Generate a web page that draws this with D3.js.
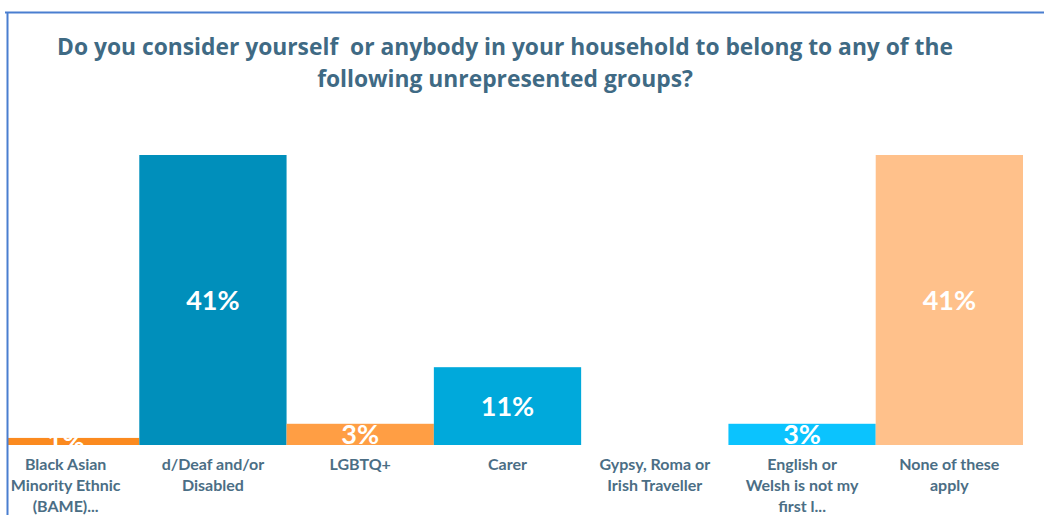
<!DOCTYPE html>
<html><head><meta charset="utf-8">
<script src="https://cdn.jsdelivr.net/npm/d3@7"></script>
<style>body{margin:0;background:#fff;}svg{display:block;}</style>
</head><body>
<svg id="c" width="1044" height="515"></svg>
<script>
const categories = ["Black Asian Minority Ethnic (BAME)...", "d/Deaf and/or Disabled", "LGBTQ+", "Carer", "Gypsy, Roma or Irish Traveller", "English or Welsh is not my first l...", "None of these apply"];
const labelLines = [["Black Asian","Minority Ethnic","(BAME)..."],["d/Deaf and/or","Disabled"],["LGBTQ+"],["Carer"],["Gypsy, Roma or","Irish Traveller"],["English or","Welsh is not my","first l..."],["None of these","apply"]];
const values = [1, 41, 3, 11, 0, 3, 41];
const valueLabels = ["1%", "41%", "3%", "11%", "", "3%", "41%"];
const colors = ["#FB8A1F", "#008FBB", "#FF9E44", "#00A9DB", "#00B8EE", "#0BC3FE", "#FFC18B"];
const titleLines = ["Do you consider yourself  or anybody in your household to belong to any of the", "following unrepresented groups?"];

const svg = d3.select("#c");
const x = d3.scaleBand().domain(categories).range([-8, 1023]).padding(0);
const y = d3.scaleLinear().domain([0, 41]).range([445, 155]);

const defs = svg.append("defs");
defs.append("clipPath").attr("id","clip")
  .append("rect").attr("x",8).attr("y",0).attr("width",1036).attr("height",515);
defs.append("clipPath").attr("id","clipv")
  .append("rect").attr("x",8).attr("y",0).attr("width",1036).attr("height",y(0));

const g = svg.append("g").attr("clip-path","url(#clip)");
g.selectAll("rect.bar").data(categories).join("rect").attr("class","bar")
  .attr("x", d => x(d)).attr("width", x.bandwidth())
  .attr("y", (d,i) => y(values[i])).attr("height", (d,i) => y(0) - y(values[i]))
  .attr("fill", (d,i) => colors[i]);

svg.append("g").attr("clip-path","url(#clipv)")
  .selectAll("text.val").data(categories).join("text").attr("class","val")
  .attr("x", d => x(d) + x.bandwidth()/2)
  .attr("y", (d,i) => (y(values[i]) + y(0))/2)
  .attr("dy", "0.36em")
  .attr("text-anchor","middle")
  .attr("fill","#fff").attr("font-family","Lato, sans-serif").attr("font-weight","bold").attr("font-size","27px")
  .text((d,i) => valueLabels[i]);

// category labels
const lab = svg.append("g");
categories.forEach((c,i) => {
  const t = lab.append("text").attr("text-anchor","middle")
    .attr("font-family","Lato, sans-serif").attr("font-weight","bold").attr("font-size","16px")
    .attr("fill","#4B6E85");
  labelLines[i].forEach((l,j) => {
    t.append("tspan").attr("x", x(c) + x.bandwidth()/2).attr("y", 470 + j*21).text(l);
  });
});

// title
const tg = svg.append("g");
const targetW = 896;
let fs = 22;
titleLines.forEach((l,j) => {
  const t = tg.append("text").attr("x", 505).attr("y", 55 + j*32).attr("text-anchor","middle")
    .style("white-space","pre")
    .attr("font-family","'Liberation Sans Narrow', 'Open Sans', sans-serif").attr("font-weight","bold")
    .attr("font-size","22px").attr("fill","#3F6A84").text(l);
  if (j === 0) { const w = t.node().getComputedTextLength(); fs = 22*targetW/w; }
  t.attr("font-size", fs.toFixed(2) + "px");
});

// frame
svg.append("line").attr("x1",5).attr("x2",1044).attr("y1",12.5).attr("y2",12.5).attr("stroke","#4A7ED0").attr("stroke-width",2);
svg.append("line").attr("x1",7.5).attr("x2",7.5).attr("y1",12).attr("y2",515).attr("stroke","#4A7ED0").attr("stroke-width",2);
</script>
</body></html>
